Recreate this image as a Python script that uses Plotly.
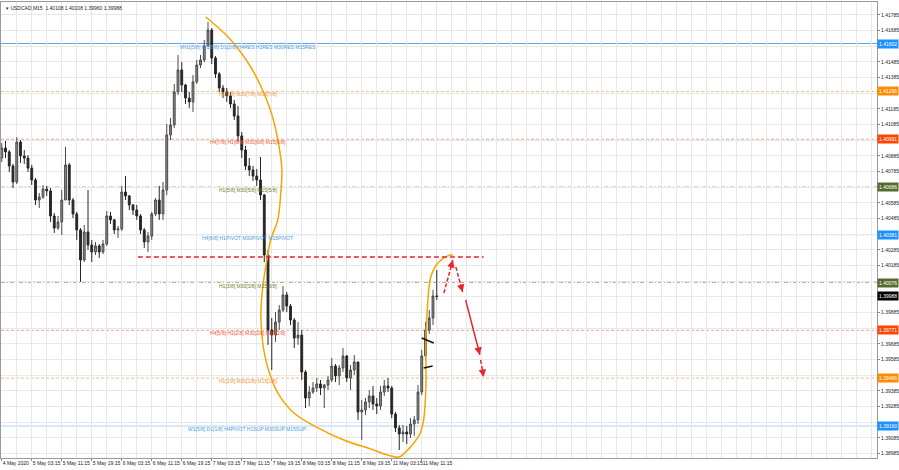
import plotly.graph_objects as go

# ---------------- data ----------------
hours = list(range(117))  # hourly candles from 4 May 19:15 (trading hours)

opens = [1.40871, 1.40935, 1.40910, 1.40820, 1.40718, 1.40973, 1.40884, 1.40871, 1.40807, 1.40731,
         1.40603, 1.40622, 1.40673, 1.40661, 1.40501, 1.40424, 1.40463, 1.40603, 1.40827, 1.40603,
         1.40514, 1.40412, 1.40220, 1.40399, 1.40316, 1.40271, 1.40310, 1.40271, 1.40322, 1.40501,
         1.40476, 1.40412, 1.40418, 1.40654, 1.40629, 1.40571, 1.40539, 1.40501, 1.40412, 1.40335,
         1.40373, 1.40514, 1.40603, 1.40514, 1.40667, 1.41018, 1.41082, 1.41293, 1.41433, 1.41337,
         1.41254, 1.41229, 1.41357, 1.41465, 1.41497, 1.41586, 1.41688, 1.41510, 1.41408, 1.41318,
         1.41293, 1.41267, 1.41216, 1.41139, 1.41012, 1.40922, 1.40820, 1.40795, 1.40756, 1.40731,
         1.40635, 1.40252, 1.39773, 1.39741, 1.39824, 1.39901, 1.39997, 1.39926, 1.39837, 1.39722,
         1.39741, 1.39505, 1.39339, 1.39377, 1.39403, 1.39429, 1.39403, 1.39422, 1.39454, 1.39543,
         1.39480, 1.39531, 1.39607, 1.39467, 1.39518, 1.39569, 1.39250, 1.39263, 1.39314, 1.39352,
         1.39301, 1.39288, 1.39377, 1.39416, 1.39403, 1.39237, 1.39148, 1.39109, 1.39122, 1.39109,
         1.39173, 1.39199, 1.39377, 1.39607, 1.39773, 1.39850, 1.39990]

highs = [1.40967, 1.40980, 1.40922, 1.40833, 1.41005, 1.40986, 1.40922, 1.40890, 1.40827, 1.40744,
         1.40648, 1.40699, 1.40693, 1.40680, 1.40520, 1.40501, 1.40667, 1.40942, 1.40839, 1.40616,
         1.40527, 1.40424, 1.40444, 1.40667, 1.40348, 1.40335, 1.40322, 1.40348, 1.40533, 1.40527,
         1.40482, 1.40437, 1.40693, 1.40756, 1.40635, 1.40578, 1.40571, 1.40514, 1.40424, 1.40399,
         1.40527, 1.40616, 1.40693, 1.40718, 1.41088, 1.41127, 1.41344, 1.41529, 1.41484, 1.41344,
         1.41293, 1.41401, 1.41497, 1.41529, 1.41625, 1.41740, 1.41701, 1.41522, 1.41420, 1.41337,
         1.41318, 1.41293, 1.41242, 1.41203, 1.41037, 1.40948, 1.40871, 1.40820, 1.40801, 1.40878,
         1.40642, 1.40284, 1.39850, 1.39888, 1.39933, 1.40054, 1.40016, 1.39939, 1.39850, 1.39824,
         1.39773, 1.39518, 1.39416, 1.39441, 1.39467, 1.39454, 1.39429, 1.39480, 1.39595, 1.39556,
         1.39550, 1.39658, 1.39614, 1.39550, 1.39614, 1.39569, 1.39326, 1.39339, 1.39390, 1.39416,
         1.39339, 1.39416, 1.39454, 1.39467, 1.39416, 1.39250, 1.39167, 1.39167, 1.39160, 1.39211,
         1.39224, 1.39422, 1.39646, 1.39824, 1.39901, 1.40029, 1.40156]

lows = [1.40846, 1.40871, 1.40782, 1.40680, 1.40705, 1.40839, 1.40833, 1.40782, 1.40699, 1.40571,
        1.40552, 1.40610, 1.40629, 1.40463, 1.40393, 1.40412, 1.40380, 1.40603, 1.40571, 1.40488,
        1.40348, 1.40080, 1.40207, 1.40284, 1.40207, 1.40252, 1.40233, 1.40258, 1.40310, 1.40450,
        1.40386, 1.40361, 1.40405, 1.40603, 1.40539, 1.40507, 1.40476, 1.40386, 1.40297, 1.40271,
        1.40348, 1.40501, 1.40476, 1.40476, 1.40635, 1.40986, 1.41063, 1.41274, 1.41293, 1.41216,
        1.41191, 1.41165, 1.41344, 1.41446, 1.41484, 1.41586, 1.41471, 1.41382, 1.41293, 1.41254,
        1.41229, 1.41191, 1.41114, 1.40973, 1.40871, 1.40795, 1.40756, 1.40724, 1.40693, 1.40603,
        1.40207, 1.39678, 1.39518, 1.39697, 1.39773, 1.39888, 1.39888, 1.39805, 1.39658, 1.39678,
        1.39454, 1.39275, 1.39288, 1.39365, 1.39377, 1.39358, 1.39275, 1.39390, 1.39441, 1.39441,
        1.39422, 1.39505, 1.39441, 1.39390, 1.39486, 1.39199, 1.39071, 1.39231, 1.39275, 1.39263,
        1.39237, 1.39263, 1.39352, 1.39377, 1.39211, 1.39122, 1.39007, 1.39058, 1.39045, 1.39084,
        1.39097, 1.39173, 1.39358, 1.39582, 1.39748, 1.39805, 1.39965]

closes = [1.40935, 1.40910, 1.40820, 1.40718, 1.40973, 1.40884, 1.40871, 1.40807, 1.40731, 1.40603,
          1.40622, 1.40673, 1.40661, 1.40501, 1.40424, 1.40463, 1.40603, 1.40827, 1.40603, 1.40514,
          1.40412, 1.40220, 1.40399, 1.40316, 1.40271, 1.40310, 1.40271, 1.40322, 1.40501, 1.40476,
          1.40412, 1.40418, 1.40654, 1.40629, 1.40571, 1.40539, 1.40501, 1.40412, 1.40335, 1.40373,
          1.40514, 1.40603, 1.40514, 1.40667, 1.41018, 1.41082, 1.41293, 1.41433, 1.41337, 1.41254,
          1.41229, 1.41357, 1.41465, 1.41497, 1.41586, 1.41688, 1.41510, 1.41408, 1.41318, 1.41293,
          1.41267, 1.41216, 1.41139, 1.41012, 1.40922, 1.40820, 1.40795, 1.40756, 1.40731, 1.40635,
          1.40252, 1.39773, 1.39741, 1.39824, 1.39901, 1.39997, 1.39926, 1.39837, 1.39722, 1.39741,
          1.39505, 1.39339, 1.39377, 1.39403, 1.39429, 1.39403, 1.39422, 1.39454, 1.39543, 1.39480,
          1.39531, 1.39607, 1.39467, 1.39518, 1.39569, 1.39250, 1.39263, 1.39314, 1.39352, 1.39301,
          1.39288, 1.39377, 1.39416, 1.39403, 1.39237, 1.39148, 1.39109, 1.39122, 1.39109, 1.39173,
          1.39199, 1.39377, 1.39607, 1.39773, 1.39850, 1.39990, 1.39988]

# x-axis time labels (every 8 trading hours)
x_tick_hours = [0, 8, 16, 24, 32, 40, 48, 56, 64, 72, 80, 88, 96, 104, 112]
x_tick_text = ["4 May 2020", "5 May 03:15", "5 May 11:15", "5 May 19:15", "6 May 03:15",
               "6 May 11:15", "6 May 19:15", "7 May 03:15", "7 May 11:15", "7 May 19:15",
               "8 May 03:15", "8 May 11:15", "8 May 19:15", "11 May 03:15", "11 May 11:15"]

# y-axis price labels (labels hidden behind the coloured price boxes are blank)
y_tick_vals = [1.38985, 1.39085, 1.39185, 1.39285, 1.39385, 1.39485, 1.39585, 1.39685, 1.39785,
               1.39885, 1.39985, 1.40085, 1.40185, 1.40285, 1.40385, 1.40485, 1.40585, 1.40685,
               1.40785, 1.40885, 1.40985, 1.41085, 1.41185, 1.41285, 1.41385, 1.41485, 1.41585,
               1.41685, 1.41785]
y_tick_text = ["1.38985", "1.39085", "", "1.39285", "1.39385", "", "1.39585", "1.39685", "",
               "1.39885", "", "", "1.40185", "1.40285", "", "1.40485", "1.40585", "",
               "1.40785", "1.40885", "", "1.41085", "1.41185", "", "1.41385", "1.41485", "",
               "1.41685", "1.41785"]

# Murrey math levels
levels = [1.41602, 1.41296, 1.40991, 1.40686, 1.40381, 1.40076, 1.39771, 1.39466, 1.39160]
level_names = ["MN1[5/8] W1[8/8] D1[2/8] H4RES H1RES M30RES M15RES",
               "H1[7/8] M30[7/8] M15[7/8]",
               "H4[7/8] H1[6/8] M30[6/8] M15[6/8]",
               "H1[5/8] M30[5/8] M15[5/8]",
               "H4[6/8] H1PIVOT M30PIVOT M15PIVOT",
               "H1[3/8] M30[3/8] M15[3/8]",
               "H4[5/8] H1[2/8] M30[2/8] M15[2/8]",
               "H1[1/8] M30[1/8] M15[1/8]",
               "W1[5/8] D1[1/8] H4PIVOT H1SUP M30SUP M15SUP"]

current_price = 1.39988
header_text = "▾ USDCAD,M15  1.40108 1.40108 1.39960 1.39988"

# hand-drawn analysis objects (hours, prices)
curve_hours = [54.4, 61.1, 66.4, 69.9, 72.3, 74.1, 74.7, 74.4, 73.6, 71.7, 70.7, 69.6, 69.1, 69.6,
               70.9, 73.6, 77.9, 84.3, 91.2, 97.6, 105.9, 107.7, 109.9, 111.5, 112.5, 113.1, 113.1,
               113.6, 114.4, 116.3, 118.9, 120.3]
curve_prices = [1.41771, 1.41625, 1.41452, 1.41286, 1.41127, 1.40922, 1.40795, 1.40648, 1.40476,
                1.40348, 1.40220, 1.40048, 1.39856, 1.39690, 1.39537, 1.39371, 1.39243, 1.39148,
                1.39071, 1.39020, 1.38962, 1.38994, 1.39052, 1.39109, 1.39199, 1.39409, 1.39729,
                1.39946, 1.40112, 1.40201, 1.40246, 1.40252]

resist_hours = [36.3, 128.5]
resist_price = 1.40239

arrow_x0 = [117.9, 121.1, 123.7, 127.7]
arrow_y0 = [1.40009, 1.40175, 1.39965, 1.39582]
arrow_x1 = [120.3, 122.9, 127.5, 128.5]
arrow_y1 = [1.40220, 1.40016, 1.39614, 1.39473]
arrow_dashed = [True, True, False, True]

mark_x0 = [112.0, 112.5]
mark_y0 = [1.39722, 1.39531]
mark_x1 = [115.2, 114.9]
mark_y1 = [1.39690, 1.39543]

# ---------------- styling ----------------
W, H = 899, 470
M_L, M_R, M_T, M_B = 1, 22, 2, 12
X_RANGE = [-0.2, 233.4]
Y_RANGE = [1.38956, 1.41867]
FONT = "Liberation Sans"
LABEL_X = 65.6

level_line = ['#5aa7f0', '#f7bb85', '#f5a08a', '#b3b394', '#a9cff2', '#b3b394', '#f5a08a', '#f7bb85', '#a9d4f5']
level_dash = ['solid', '3px,2px', '3px,2px', '4px,2px,1px,2px', '3px,2px', '4px,2px,1px,2px', '3px,2px', '3px,2px', 'solid']
level_text = ['#4d9be6', '#f0962c', '#ef5a2a', '#6e7d32', '#4d9be6', '#6e7d32', '#ef5a2a', '#f0962c', '#4d9be6']
level_box = ['#1e90ff', '#ff8c00', '#ff4500', '#556b2f', '#1e90ff', '#556b2f', '#ff4500', '#ff8c00', '#1e90ff']

fig = go.Figure()

fig.add_trace(go.Candlestick(
    x=hours, open=opens, high=highs, low=lows, close=closes,
    increasing=dict(line=dict(color='#4a4a4a', width=1), fillcolor='#8c8c8c'),
    decreasing=dict(line=dict(color='#262626', width=1), fillcolor='#262626'),
    whiskerwidth=0, hoverinfo='skip', showlegend=False))

shapes = []
for lv, c, d in zip(levels, level_line, level_dash):
    shapes.append(dict(type='line', xref='paper', x0=0, x1=1, yref='y', y0=lv, y1=lv,
                       line=dict(color=c, width=1, dash=d), layer='below'))

# orange curve
fig.add_trace(go.Scatter(x=curve_hours, y=curve_prices, mode='lines',
                         line=dict(color='#f5a500', width=1.5, shape='spline', smoothing=1.0),
                         hoverinfo='skip', showlegend=False))
# red dashed resistance
fig.add_trace(go.Scatter(x=resist_hours, y=[resist_price, resist_price], mode='lines',
                         line=dict(color='#e8262b', width=1.5, dash='5px,3px'),
                         hoverinfo='skip', showlegend=False))
# black marks
for a, b, c, d in zip(mark_x0, mark_y0, mark_x1, mark_y1):
    fig.add_trace(go.Scatter(x=[a, c], y=[b, d], mode='lines', line=dict(color='#111', width=1.5),
                             hoverinfo='skip', showlegend=False))

# arrows
pw = W - M_L - M_R
ph = H - M_T - M_B
sx = pw / (X_RANGE[1] - X_RANGE[0])
sy = ph / (Y_RANGE[1] - Y_RANGE[0])
annotations = []
for a, b, c, d, dsh in zip(arrow_x0, arrow_y0, arrow_x1, arrow_y1, arrow_dashed):
    fig.add_trace(go.Scatter(x=[a, c], y=[b, d], mode='lines',
                             line=dict(color='#e8262b', width=1.5, dash='4px,2px' if dsh else 'solid'),
                             hoverinfo='skip', showlegend=False))
    dxp = (c - a) * sx
    dyp = -(d - b) * sy
    n = (dxp ** 2 + dyp ** 2) ** 0.5
    annotations.append(dict(x=c, y=d, xref='x', yref='y', ax=-dxp / n * 6, ay=-dyp / n * 6,
                            axref='pixel', ayref='pixel', showarrow=True, arrowhead=2,
                            arrowsize=1, arrowwidth=1.5, arrowcolor='#e8262b', text=''))

# level labels
for lv, name, tc in zip(levels, level_names, level_text):
    annotations.append(dict(x=LABEL_X, y=lv, xref='x', yref='y', text=name, showarrow=False,
                            xanchor='center', yanchor='middle', yshift=-3,
                            font=dict(family=FONT, size=5, color=tc)))
# right-axis price boxes
for lv, bc in zip(levels, level_box):
    annotations.append(dict(x=1, y=lv, xref='paper', yref='y', text=f"{lv:.5f}", showarrow=False,
                            xanchor='left', yanchor='middle', xshift=0, bgcolor=bc, borderpad=1,
                            font=dict(family=FONT, size=5, color='white')))
annotations.append(dict(x=1, y=current_price, xref='paper', yref='y', text=f"{current_price:.5f}",
                        showarrow=False, xanchor='left', yanchor='middle', bgcolor='#000000',
                        borderpad=1, font=dict(family=FONT, size=5, color='white')))
# header
annotations.append(dict(x=0.003, y=0.997, xref='paper', yref='paper', text=header_text,
                        showarrow=False, xanchor='left', yanchor='top',
                        font=dict(family=FONT, size=5, color='#222')))

fig.update_layout(
    width=W, height=H,
    margin=dict(l=M_L, r=M_R, t=M_T, b=M_B, pad=0, autoexpand=False),
    paper_bgcolor='white', plot_bgcolor='white',
    showlegend=False,
    shapes=shapes, annotations=annotations,
    font=dict(family=FONT, size=5, color='#222'),
    xaxis=dict(range=X_RANGE, rangeslider=dict(visible=False), tickmode='array',
               tickvals=x_tick_hours, ticktext=x_tick_text, ticklabelposition='outside right',
               tickangle=0, automargin=False,
               ticks='outside', ticklen=2, tickcolor='#888',
               showgrid=True, gridcolor='#e8e8e8', gridwidth=1,
               minor=dict(dtick=4, tick0=0, showgrid=True, gridcolor='#e8e8e8', ticks=''),
               showline=True, mirror=True, linecolor='#9a9a9a', linewidth=1, zeroline=False,
               tickfont=dict(family=FONT, size=5, color='#222')),
    yaxis=dict(range=Y_RANGE, side='right', tickmode='array', tickvals=y_tick_vals,
               ticktext=y_tick_text, ticks='outside', ticklen=2,
               automargin=False,
               tickcolor='#888', showgrid=True, gridcolor='#e8e8e8', gridwidth=1,
               showline=True, mirror=True, linecolor='#9a9a9a', linewidth=1, zeroline=False,
               tickfont=dict(family=FONT, size=5, color='#222')),
)

fig.write_html("out.html", config={'displayModeBar': False},
               post_script="document.body.style.margin='0';document.body.style.padding='0';"
                           "document.documentElement.style.overflow='hidden';")
